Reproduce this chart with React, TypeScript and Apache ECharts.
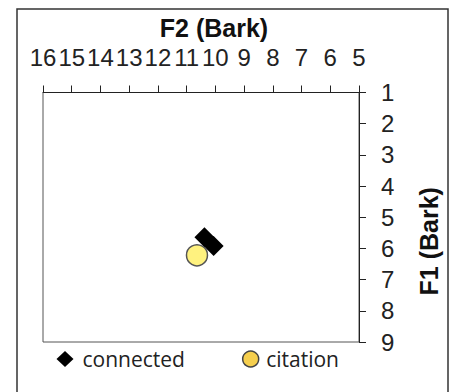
import React, { useEffect, useRef } from "react";
import * as echarts from "echarts";

const connectedF2 = [10.38, 10.06];
const connectedF1 = [5.64, 5.92];
const citationF2 = [10.64];
const citationF1 = [6.22];

const xMin = 5;
const xMax = 16;
const yMin = 1;
const yMax = 9;

const seriesNames = ["connected", "citation"];
const xAxisTitle = "F2 (Bark)";
const yAxisTitle = "F1 (Bark)";

export default function App() {
  const ref = useRef<HTMLDivElement>(null);
  useEffect(() => {
    if (!ref.current) return;
    const chart = echarts.init(ref.current, undefined, { renderer: "svg" });
    const font = "Liberation Sans, Arial, sans-serif";
    chart.setOption({
      animation: false,
      backgroundColor: "#fff",
      grid: {
        left: 43,
        right: 86,
        top: 92.5,
        bottom: 50,
        show: true,
        borderColor: "#555",
        borderWidth: 1,
        containLabel: false,
      },
      xAxis: {
        type: "value",
        position: "top",
        inverse: true,
        min: xMin,
        max: xMax,
        interval: 1,
        name: xAxisTitle,
        nameLocation: "middle",
        nameGap: 46,
        nameTextStyle: { fontSize: 25, fontWeight: "bold", fontFamily: font, color: "#111", padding: [0, 0, 0, 26] },
        axisLine: { show: true, lineStyle: { color: "#222", width: 1 } },
        axisTick: { show: true, length: 7, lineStyle: { color: "#222" } },
        splitLine: { show: false },
        axisLabel: {
          margin: 23,
          fontSize: 24,
          fontFamily: font,
          color: "#222",
          hideOverlap: false,
        },
      },
      yAxis: {
        type: "value",
        position: "right",
        inverse: true,
        min: yMin,
        max: yMax,
        interval: 1,
        name: yAxisTitle,
        nameLocation: "middle",
        nameRotate: 90,
        nameGap: 57,
        nameTextStyle: { fontSize: 25, fontWeight: "bold", fontFamily: font, color: "#111", padding: [0, 48, 0, 0] },
        axisLine: { show: true, lineStyle: { color: "#222", width: 1 } },
        axisTick: { show: true, length: 7, lineStyle: { color: "#222" } },
        splitLine: { show: false },
        axisLabel: { margin: 22, fontSize: 24, fontFamily: font, color: "#222" },
      },
      legend: {
        left: 51.5,
        top: 343.5,
        itemGap: 57,
        itemWidth: 17,
        itemHeight: 16,
        textStyle: { fontSize: 21, fontFamily: "Open Sans, sans-serif", color: "#222" },
        data: [
          { name: seriesNames[0], icon: "diamond", itemStyle: { color: "#000" }, textStyle: { padding: [0, 0, 0, 4] } },
          {
            name: seriesNames[1],
            icon: "circle",
            itemStyle: { color: "#f6cf4e", borderColor: "#444", borderWidth: 1.5 },
            textStyle: { padding: [0, 0, 0, 2] },
          },
        ],
      },
      graphic: [
        {
          type: "rect",
          shape: { x: 17, y: 9, width: 431, height: 400 },
          style: { fill: "none", stroke: "#333", lineWidth: 1.5 },
          silent: true,
        },
      ],
      series: [
        {
          name: seriesNames[0],
          type: "scatter",
          symbol: "diamond",
          symbolSize: 20,
          itemStyle: { color: "#000", opacity: 1 },
          data: connectedF2.map((x, i) => [x, connectedF1[i]]),
        },
        {
          name: seriesNames[1],
          type: "scatter",
          symbol: "circle",
          symbolSize: 21,
          itemStyle: { color: "#fff27f", borderColor: "#555", borderWidth: 1.5, opacity: 1 },
          data: citationF2.map((x, i) => [x, citationF1[i]]),
        },
      ],
    });
    return () => chart.dispose();
  }, []);
  return <div ref={ref} style={{ position: "fixed", left: 0, top: 0, width: 449, height: 392 }} />;
}
